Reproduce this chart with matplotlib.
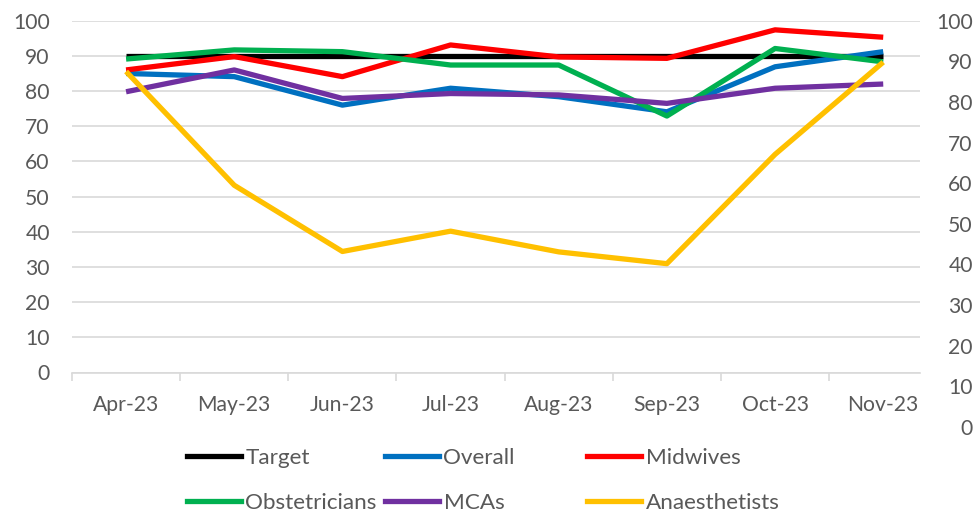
import matplotlib
matplotlib.use("Agg")
import matplotlib.pyplot as plt
from matplotlib.lines import Line2D

# Monthly compliance figures (%)
months = ["Apr-23", "May-23", "Jun-23", "Jul-23", "Aug-23", "Sep-23", "Oct-23", "Nov-23"]
target = [90, 90, 90, 90, 90, 90, 90, 90]
overall = [85.0, 84.1, 76.0, 80.8, 78.4, 74.1, 86.9, 91.2]
midwives = [86.0, 89.8, 84.1, 93.1, 89.7, 89.3, 97.4, 95.3]
obstetricians = [89.1, 91.7, 91.2, 87.4, 87.4, 72.9, 92.1, 88.3]
mcas = [79.8, 86.0, 77.9, 79.3, 78.9, 76.5, 80.8, 82.0]
anaesthetists = [87.5, 59.5, 43.2, 48.2, 43.1, 40.2, 67.1, 89.8]  # secondary axis

plt.rcParams["font.family"] = ["Lato", "DejaVu Sans"]
TXT = "#595959"
GRID = "#d9d9d9"
FS = 15.2
LFS = 16.2
LW = 3.8

W, H = 975, 519
fig = plt.figure(figsize=(W / 100, H / 100), dpi=100)
fig.patch.set_facecolor("white")

left, right = 72, 920
top, bottom, bottom2 = 20.7, 372.5, 427

ax = fig.add_axes([left / W, 1 - bottom / H, (right - left) / W, (bottom - top) / H])
ax2 = fig.add_axes([left / W, 1 - bottom2 / H, (right - left) / W, (bottom2 - top) / H])

x = list(range(len(months)))
xlim = (-0.5, 7.34)

# primary axis
series = [
    ("Target", target, "#000000"),
    ("Overall", overall, "#0070C0"),
    ("Midwives", midwives, "#FF0000"),
    ("Obstetricians", obstetricians, "#00B050"),
    ("MCAs", mcas, "#7030A0"),
]
handles = {}
for name, vals, col in series:
    (ln,) = ax.plot(x, vals, color=col, lw=LW, solid_joinstyle="round",
                    solid_capstyle="butt", label=name)
    handles[name] = ln

ax.set_xlim(*xlim)
ax.set_ylim(0, 100)
ax.set_yticks(range(0, 101, 10))
ax.yaxis.grid(True, color=GRID, lw=1.2)
ax.set_axisbelow(True)
for s in ("top", "left", "right"):
    ax.spines[s].set_visible(False)
ax.spines["bottom"].set_color(GRID)
ax.spines["bottom"].set_linewidth(1.2)
ax.set_xticks(x)
ax.set_xticklabels(months)
ax.set_xticks([i - 0.5 for i in range(len(months))], minor=True)
ax.tick_params(axis="x", which="major", length=0, pad=16, labelsize=FS, labelcolor=TXT)
ax.tick_params(axis="x", which="minor", length=6, width=1.2, color=GRID, direction="out")
ax.tick_params(axis="y", length=0, pad=16, labelsize=FS, labelcolor=TXT)

# secondary axis
(ln,) = ax2.plot(x, anaesthetists, color="#FFC000", lw=LW, solid_joinstyle="round",
                 solid_capstyle="butt", label="Anaesthetists")
handles["Anaesthetists"] = ln
ax2.set_xlim(*xlim)
ax2.set_ylim(0, 100)
ax2.patch.set_visible(False)
for s in ax2.spines.values():
    s.set_visible(False)
ax2.set_xticks([])
ax2.yaxis.tick_right()
ax2.set_yticks(range(0, 101, 10))
ax2.tick_params(axis="y", length=0, pad=38, labelsize=FS, labelcolor=TXT)
for lab in ax2.get_yticklabels():
    lab.set_horizontalalignment("right")

# legend: three columns, two rows
cols = [("Target", "Obstetricians"), ("Overall", "MCAs"), ("Midwives", "Anaesthetists")]
col_x = [187, 385, 587]
for cx, names in zip(col_x, cols):
    hs = [Line2D([], [], color=handles[n].get_color(), lw=LW) for n in names]
    leg = fig.legend(hs, names, loc="upper left", bbox_to_anchor=(cx / W, 1 - 448 / H),
                     frameon=False, fontsize=LFS, handlelength=2.4, handletextpad=0.2,
                     labelspacing=1.12, borderaxespad=0, borderpad=0)
    for t in leg.get_texts():
        t.set_color(TXT)

fig.savefig("out.png", dpi=100, facecolor="white")
